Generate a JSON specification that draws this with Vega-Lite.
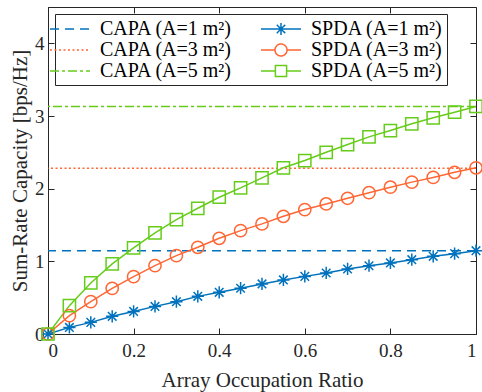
{
  "$schema": "https://vega.github.io/schema/vega-lite/v6.json",
  "width": 428,
  "height": 327,
  "autosize": "none",
  "padding": {"left": 48, "top": 7, "right": 6, "bottom": 58},
  "config": {
    "view": {"stroke": "#262626", "strokeWidth": 1},
    "font": "Liberation Serif",
    "axis": {
      "grid": false,
      "domainColor": "#262626",
      "tickColor": "#262626",
      "ticks": true,
      "tickSize": -6,
      "tickWidth": 1,
      "labelFont": "'Liberation Serif', serif",
      "labelFontSize": 19,
      "labelColor": "#262626",
      "titleFont": "'Liberation Serif', serif",
      "titleFontSize": 21,
      "titleFontWeight": "normal",
      "titleColor": "#262626"
    },
    "legend": {"labelFont": "'Liberation Serif', serif"}
  },
  "datasets": {
    "capa": [
      {"series": "CAPA (A=1 m²)", "y": 1.147},
      {"series": "CAPA (A=3 m²)", "y": 2.281},
      {"series": "CAPA (A=5 m²)", "y": 3.131}
    ],
    "spda": [
      {"series": "SPDA (A=1 m²)", "x": 0, "y": 0},
      {"series": "SPDA (A=1 m²)", "x": 0.05, "y": 0.091},
      {"series": "SPDA (A=1 m²)", "x": 0.1, "y": 0.16},
      {"series": "SPDA (A=1 m²)", "x": 0.15, "y": 0.243},
      {"series": "SPDA (A=1 m²)", "x": 0.2, "y": 0.311},
      {"series": "SPDA (A=1 m²)", "x": 0.25, "y": 0.38},
      {"series": "SPDA (A=1 m²)", "x": 0.3, "y": 0.445},
      {"series": "SPDA (A=1 m²)", "x": 0.35, "y": 0.518},
      {"series": "SPDA (A=1 m²)", "x": 0.4, "y": 0.573},
      {"series": "SPDA (A=1 m²)", "x": 0.45, "y": 0.63},
      {"series": "SPDA (A=1 m²)", "x": 0.5, "y": 0.689},
      {"series": "SPDA (A=1 m²)", "x": 0.55, "y": 0.744},
      {"series": "SPDA (A=1 m²)", "x": 0.6, "y": 0.793},
      {"series": "SPDA (A=1 m²)", "x": 0.65, "y": 0.84},
      {"series": "SPDA (A=1 m²)", "x": 0.7, "y": 0.895},
      {"series": "SPDA (A=1 m²)", "x": 0.75, "y": 0.94},
      {"series": "SPDA (A=1 m²)", "x": 0.8, "y": 0.978},
      {"series": "SPDA (A=1 m²)", "x": 0.85, "y": 1.023},
      {"series": "SPDA (A=1 m²)", "x": 0.9, "y": 1.069},
      {"series": "SPDA (A=1 m²)", "x": 0.95, "y": 1.106},
      {"series": "SPDA (A=1 m²)", "x": 1, "y": 1.147},
      {"series": "SPDA (A=3 m²)", "x": 0, "y": 0},
      {"series": "SPDA (A=3 m²)", "x": 0.05, "y": 0.252},
      {"series": "SPDA (A=3 m²)", "x": 0.1, "y": 0.445},
      {"series": "SPDA (A=3 m²)", "x": 0.15, "y": 0.628},
      {"series": "SPDA (A=3 m²)", "x": 0.2, "y": 0.789},
      {"series": "SPDA (A=3 m²)", "x": 0.25, "y": 0.941},
      {"series": "SPDA (A=3 m²)", "x": 0.3, "y": 1.079},
      {"series": "SPDA (A=3 m²)", "x": 0.35, "y": 1.193},
      {"series": "SPDA (A=3 m²)", "x": 0.4, "y": 1.317},
      {"series": "SPDA (A=3 m²)", "x": 0.45, "y": 1.423},
      {"series": "SPDA (A=3 m²)", "x": 0.5, "y": 1.515},
      {"series": "SPDA (A=3 m²)", "x": 0.55, "y": 1.62},
      {"series": "SPDA (A=3 m²)", "x": 0.6, "y": 1.712},
      {"series": "SPDA (A=3 m²)", "x": 0.65, "y": 1.79},
      {"series": "SPDA (A=3 m²)", "x": 0.7, "y": 1.868},
      {"series": "SPDA (A=3 m²)", "x": 0.75, "y": 1.945},
      {"series": "SPDA (A=3 m²)", "x": 0.8, "y": 2.02},
      {"series": "SPDA (A=3 m²)", "x": 0.85, "y": 2.09},
      {"series": "SPDA (A=3 m²)", "x": 0.9, "y": 2.155},
      {"series": "SPDA (A=3 m²)", "x": 0.95, "y": 2.225},
      {"series": "SPDA (A=3 m²)", "x": 1, "y": 2.287},
      {"series": "SPDA (A=5 m²)", "x": 0, "y": 0},
      {"series": "SPDA (A=5 m²)", "x": 0.05, "y": 0.39},
      {"series": "SPDA (A=5 m²)", "x": 0.1, "y": 0.702},
      {"series": "SPDA (A=5 m²)", "x": 0.15, "y": 0.964},
      {"series": "SPDA (A=5 m²)", "x": 0.2, "y": 1.185},
      {"series": "SPDA (A=5 m²)", "x": 0.25, "y": 1.391},
      {"series": "SPDA (A=5 m²)", "x": 0.3, "y": 1.574},
      {"series": "SPDA (A=5 m²)", "x": 0.35, "y": 1.73},
      {"series": "SPDA (A=5 m²)", "x": 0.4, "y": 1.882},
      {"series": "SPDA (A=5 m²)", "x": 0.45, "y": 2.011},
      {"series": "SPDA (A=5 m²)", "x": 0.5, "y": 2.149},
      {"series": "SPDA (A=5 m²)", "x": 0.55, "y": 2.287},
      {"series": "SPDA (A=5 m²)", "x": 0.6, "y": 2.387},
      {"series": "SPDA (A=5 m²)", "x": 0.65, "y": 2.501},
      {"series": "SPDA (A=5 m²)", "x": 0.7, "y": 2.607},
      {"series": "SPDA (A=5 m²)", "x": 0.75, "y": 2.713},
      {"series": "SPDA (A=5 m²)", "x": 0.8, "y": 2.8},
      {"series": "SPDA (A=5 m²)", "x": 0.85, "y": 2.893},
      {"series": "SPDA (A=5 m²)", "x": 0.9, "y": 2.975},
      {"series": "SPDA (A=5 m²)", "x": 0.95, "y": 3.052},
      {"series": "SPDA (A=5 m²)", "x": 1, "y": 3.131}
    ]
  },
  "resolve": {"axis": {"x": "independent", "y": "independent"}},
  "layer": [
    {
      "data": {"name": "capa"},
      "mark": {"type": "rule", "strokeWidth": 1.5},
      "encoding": {
        "y": {"field": "y", "type": "quantitative", "scale": {"domain": [0, 4.5], "nice": false},
          "axis": {"values": [0, 1, 2, 3, 4], "title": "Sum-Rate Capacity [bps/Hz]", "labelPadding": 10, "titlePadding": 4}},
        "color": {"field": "series", "type": "nominal",
          "scale": {"domain": ["CAPA (A=1 m²)", "CAPA (A=3 m²)", "CAPA (A=5 m²)", "SPDA (A=1 m²)", "SPDA (A=3 m²)", "SPDA (A=5 m²)"],
            "range": ["#0072BD", "#FF6633", "#66CC1A", "#0072BD", "#FF6633", "#66CC1A"]},
          "legend": {
            "title": null, "orient": "top-left", "offset": 7, "columns": 2,
            "strokeColor": "#262626", "fillColor": "white", "padding": 4,
            "symbolSize": 400, "symbolStrokeWidth": 1.5,
            "labelFontSize": 20, "labelColor": "#000000", "labelOffset": 19, "columnPadding": 25, "rowPadding": 0,
            "symbolFillColor": "transparent",
            "encode": {"symbols": {"update": {
              "fill": {"value": "transparent"},
              "shape": {"signal": "indexof(datum.value, 'CAPA') >= 0 ? 'M-2,0H2' : indexof(datum.value, 'A=1') >= 0 ? 'M-2,0H2M0,-0.6V0.6M-0.6,0H0.6M-0.42,-0.42L0.42,0.42M-0.42,0.42L0.42,-0.42' : indexof(datum.value, 'A=3') >= 0 ? 'M-2,0H-0.6M0.6,0H2M-0.6,0A0.6,0.6 0 1,0 0.6,0A0.6,0.6 0 1,0 -0.6,0' : 'M-2,0H-0.56M0.56,0H2M-0.56,-0.56H0.56V0.56H-0.56Z'"}
            }}}
          }},
        "strokeDash": {"field": "series", "type": "nominal",
          "scale": {"domain": ["CAPA (A=1 m²)", "CAPA (A=3 m²)", "CAPA (A=5 m²)", "SPDA (A=1 m²)", "SPDA (A=3 m²)", "SPDA (A=5 m²)"],
            "range": [[9, 6], [2, 2.5], [9, 3, 3, 3], [1, 0], [1, 0], [1, 0]]}}
      }
    },
    {
      "data": {"name": "spda"},
      "mark": {"type": "line", "strokeWidth": 1.5},
      "encoding": {
        "x": {"field": "x", "type": "quantitative", "scale": {"domain": [0, 1], "nice": false},
          "axis": {"values": [0, 0.2, 0.4, 0.6, 0.8, 1], "format": "~g", "title": "Array Occupation Ratio", "labelPadding": 13, "titlePadding": 9}},
        "y": {"field": "y", "type": "quantitative", "axis": null},
        "color": {"field": "series", "type": "nominal"}
      }
    },
    {
      "data": {"name": "spda"},
      "mark": {"type": "point", "filled": false, "strokeWidth": 1.5, "size": 150, "opacity": 1},
      "encoding": {
        "x": {"field": "x", "type": "quantitative", "axis": null},
        "y": {"field": "y", "type": "quantitative", "axis": null},
        "color": {"field": "series", "type": "nominal"},
        "shape": {"field": "series", "type": "nominal", "legend": null,
          "scale": {"domain": ["SPDA (A=1 m²)", "SPDA (A=3 m²)", "SPDA (A=5 m²)"],
            "range": ["M0,-1V1M-1,0H1M-0.7,-0.7L0.7,0.7M-0.7,0.7L0.7,-0.7", "circle", "square"]}}
      }
    },
    {
      "data": {"name": "capa"},
      "mark": {"type": "rule", "opacity": 0},
      "encoding": {
        "x": {"datum": 0, "type": "quantitative",
          "axis": {"orient": "top", "values": [0, 0.2, 0.4, 0.6, 0.8, 1], "labels": false, "title": null, "domain": false, "ticks": true, "tickSize": -6}},
        "y": {"field": "y", "type": "quantitative",
          "axis": {"orient": "right", "values": [0, 1, 2, 3, 4], "labels": false, "title": null, "domain": false, "ticks": true, "tickSize": -6}}
      }
    }
  ]
}
